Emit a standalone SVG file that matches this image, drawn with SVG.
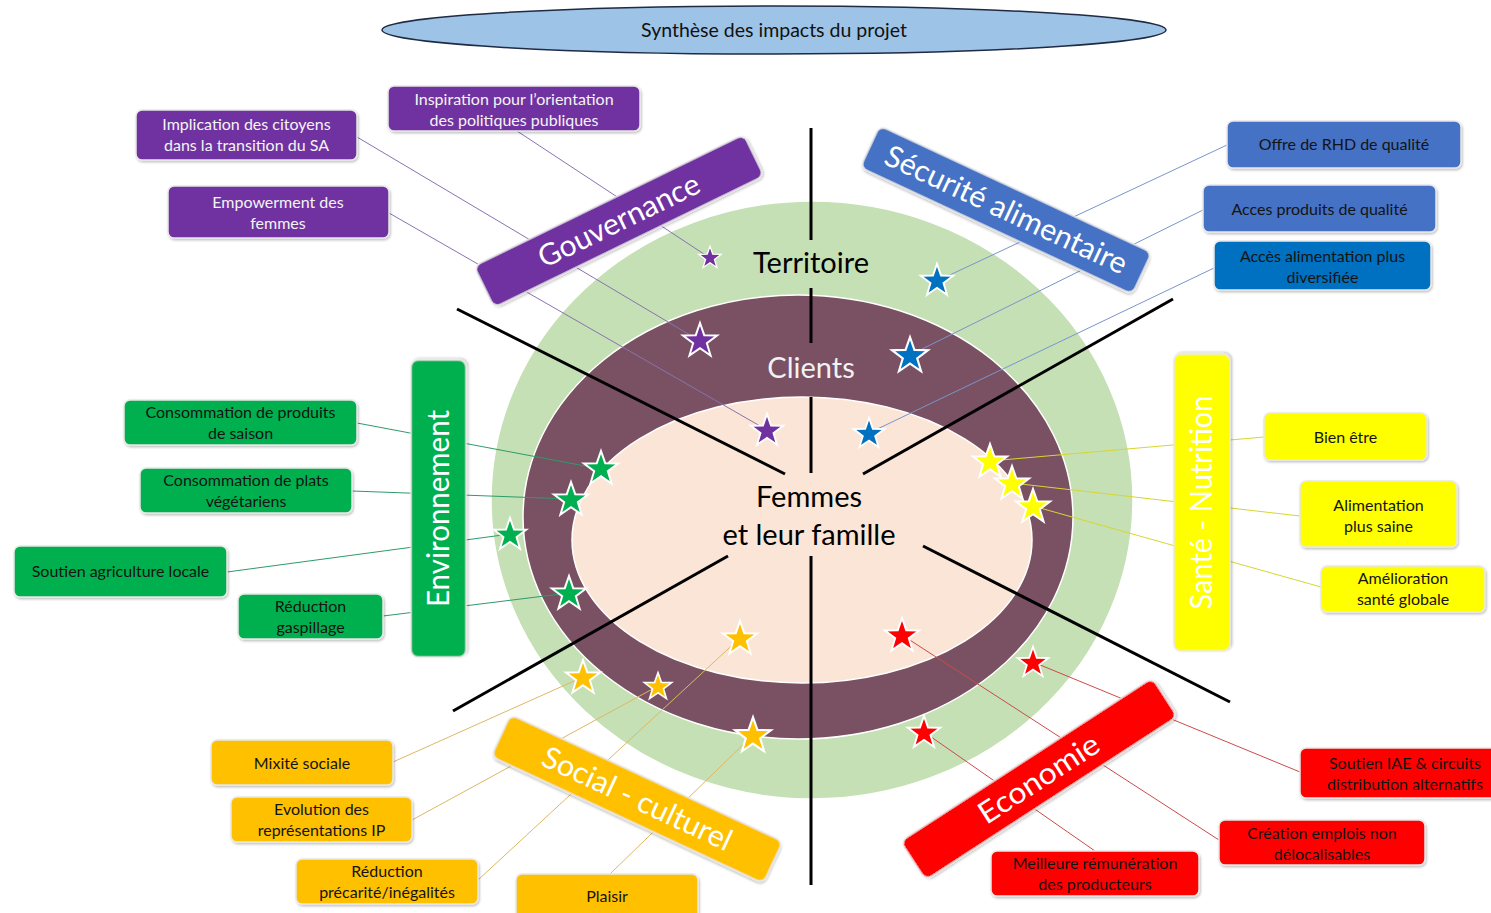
<svg xmlns="http://www.w3.org/2000/svg" xmlns:xlink="http://www.w3.org/1999/xlink" width="1491" height="913" viewBox="0 0 1491 913">
<defs>
<style>
.box{stroke:#e8e8e8;stroke-width:1.5;filter:url(#sh)}
.bt{font-family:Lato,"Liberation Sans",sans-serif;font-size:16px;text-anchor:middle;fill:#141414}
.bw{fill:#f4f4f4}
.bar{stroke:#e8e8e8;stroke-width:1.5;filter:url(#sh)}
.bart{font-family:Lato,"Liberation Sans",sans-serif;font-size:30px;text-anchor:middle;fill:#ffffff}
.ct{font-family:Lato,"Liberation Sans",sans-serif;font-size:29px;text-anchor:middle;fill:#000}
.div{stroke:#000;stroke-width:3;fill:none}
.cn{stroke-width:1;fill:none}
.star{stroke:#fff;stroke-width:2;stroke-linejoin:miter}
</style>
<filter id="sh" x="-10%" y="-10%" width="120%" height="130%">
<feDropShadow dx="1" dy="1.5" stdDeviation="1.2" flood-color="#000" flood-opacity="0.25"/>
</filter>
<path id="star" d="M0,-18 L4.23,-5.82 L17.12,-5.56 L6.85,2.22 L10.58,14.56 L0,7.2 L-10.58,14.56 L-6.85,2.22 L-17.12,-5.56 L-4.23,-5.82 Z"/>
</defs>
<rect width="1491" height="913" fill="#ffffff"/>

<g id="title">
<ellipse cx="774" cy="30" rx="392" ry="24" fill="#9dc3e6" stroke="#1f2a44" stroke-width="1.5"/>
<text x="774" y="37" font-family="Lato,'Liberation Sans',sans-serif" font-size="19.5" text-anchor="middle" fill="#111">Synthèse des impacts du projet</text>
</g>

<g id="rings">
<ellipse cx="812" cy="500" rx="321" ry="299" fill="#c5e0b4" stroke="#ffffff" stroke-width="1.5"/>
<ellipse cx="798" cy="517" rx="275" ry="222" fill="#7a5163" stroke="#ffffff" stroke-width="1.5"/>
<ellipse cx="802" cy="540" rx="230" ry="143" fill="#fbe5d6" stroke="#ffffff" stroke-width="1.5"/>
</g>

<g id="dividers">
<line class="div" x1="811" y1="128" x2="811" y2="240"/>
<line class="div" x1="811" y1="288" x2="811" y2="343"/>
<line class="div" x1="811" y1="397" x2="811" y2="473"/>
<line class="div" x1="811" y1="556" x2="811" y2="885"/>
<line class="div" x1="457" y1="309" x2="785" y2="474"/>
<line class="div" x1="1173" y1="299" x2="863" y2="474"/>
<line class="div" x1="453" y1="711" x2="728" y2="556"/>
<line class="div" x1="923" y1="546" x2="1230" y2="702"/>
</g>

<g id="connectors">
<g stroke="#8a72b0" class="cn">
<line x1="517" y1="131" x2="710" y2="258"/>
<line x1="357" y1="137" x2="700" y2="341"/>
<line x1="389" y1="213" x2="767" y2="430"/>
</g>
<g stroke="#7a94cc" class="cn">
<line x1="1227" y1="145" x2="937" y2="281"/>
<line x1="1203" y1="210" x2="910" y2="355"/>
<line x1="1214" y1="268" x2="869" y2="433"/>
</g>
<g stroke="#2f9a6a" class="cn">
<line x1="357" y1="423" x2="601" y2="469"/>
<line x1="352" y1="491" x2="571" y2="499"/>
<line x1="227" y1="572" x2="510" y2="534"/>
<line x1="383" y1="616" x2="569" y2="593"/>
</g>
<g stroke="#d6d630" class="cn">
<line x1="1264" y1="437" x2="990" y2="461"/>
<line x1="1300" y1="516" x2="1012" y2="483"/>
<line x1="1321" y1="587" x2="1033" y2="506"/>
</g>
<g stroke="#dcb866" class="cn">
<line x1="393" y1="762" x2="583" y2="677"/>
<line x1="412" y1="820" x2="658" y2="686"/>
<line x1="478" y1="880" x2="740" y2="638"/>
<line x1="610" y1="874" x2="753" y2="735"/>
</g>
<g stroke="#cc4a4a" class="cn">
<line x1="1300" y1="772" x2="1033" y2="662"/>
<line x1="1219" y1="840" x2="902" y2="635"/>
<line x1="1095" y1="851" x2="924" y2="732"/>
</g>
</g>

<g id="ring-labels">
<text class="ct" x="811" y="273">Territoire</text>
<text class="ct" x="811" y="378" style="fill:#f2f2f2">Clients</text>
<text class="ct" x="809" y="507">Femmes</text>
<text class="ct" x="809" y="545">et leur famille</text>
</g>

<g id="bar-gouvernance" transform="translate(619,221) rotate(-26)">
<rect class="bar" x="-150" y="-23" width="300" height="46" rx="7" fill="#7030a0"/>
<text class="bart" x="0" y="10" textLength="176" lengthAdjust="spacingAndGlyphs">Gouvernance</text>
</g>
<g id="bar-securite" transform="translate(1006,210) rotate(25)">
<rect class="bar" x="-150" y="-23" width="300" height="46" rx="7" fill="#4472c4"/>
<text class="bart" x="0" y="10" textLength="264" lengthAdjust="spacingAndGlyphs">Sécurité alimentaire</text>
</g>
<g id="bar-environnement" transform="translate(438.5,508.5) rotate(-90)">
<rect class="bar" x="-148.5" y="-27.5" width="297" height="55" rx="7" fill="#00b050"/>
<text class="bart" x="0" y="10" textLength="197" lengthAdjust="spacingAndGlyphs">Environnement</text>
</g>
<g id="bar-sante" transform="translate(1202,502.5) rotate(-90)">
<rect class="bar" x="-148.5" y="-28" width="297" height="56" rx="7" fill="#ffff00"/>
<text class="bart" x="0" y="10" textLength="214" lengthAdjust="spacingAndGlyphs">Santé - Nutrition</text>
</g>
<g id="bar-social" transform="translate(637,799) rotate(25)">
<rect class="bar" x="-150" y="-23" width="300" height="46" rx="7" fill="#ffc000"/>
<text class="bart" x="0" y="10" textLength="206" lengthAdjust="spacingAndGlyphs">Social - culturel</text>
</g>
<g id="bar-economie" transform="translate(1039,779) rotate(-33)">
<rect class="bar" x="-150" y="-23" width="300" height="46" rx="7" fill="#ff0000"/>
<text class="bart" x="0" y="10" textLength="138" lengthAdjust="spacingAndGlyphs">Economie</text>
</g>

<g id="stars">
<g fill="#7030a0" class="star">
<use xlink:href="#star" transform="translate(710,258) scale(0.65)"/>
<use xlink:href="#star" transform="translate(700,341) scale(1)"/>
<use xlink:href="#star" transform="translate(767,431) scale(0.95)"/>
</g>
<g fill="#0070c0" class="star">
<use xlink:href="#star" transform="translate(937,281) scale(0.95)"/>
<use xlink:href="#star" transform="translate(910,356) scale(1.05)"/>
<use xlink:href="#star" transform="translate(869,434) scale(0.9)"/>
</g>
<g fill="#00b050" class="star">
<use xlink:href="#star" transform="translate(601,469) scale(1)"/>
<use xlink:href="#star" transform="translate(571,500) scale(1)"/>
<use xlink:href="#star" transform="translate(510,535) scale(0.95)"/>
<use xlink:href="#star" transform="translate(569,594) scale(1)"/>
</g>
<g fill="#ffff00" class="star">
<use xlink:href="#star" transform="translate(990,462) scale(1)"/>
<use xlink:href="#star" transform="translate(1012,484) scale(1)"/>
<use xlink:href="#star" transform="translate(1033,507) scale(1)"/>
</g>
<g fill="#ffc000" class="star">
<use xlink:href="#star" transform="translate(583,678) scale(1)"/>
<use xlink:href="#star" transform="translate(658,687) scale(0.8)"/>
<use xlink:href="#star" transform="translate(740,639) scale(1)"/>
<use xlink:href="#star" transform="translate(753,736) scale(1.05)"/>
</g>
<g fill="#ff0000" class="star">
<use xlink:href="#star" transform="translate(902,636) scale(1)"/>
<use xlink:href="#star" transform="translate(1033,663) scale(0.9)"/>
<use xlink:href="#star" transform="translate(924,733) scale(0.95)"/>
</g>
</g>

<g id="box-inspiration"><rect class="box" x="388" y="86" width="252" height="45" rx="6" fill="#7030a0"/><text class="bt bw" x="514" y="105">Inspiration pour l’orientation</text><text class="bt bw" x="514" y="126">des politiques publiques</text></g>
<g id="box-implication"><rect class="box" x="136" y="110" width="221" height="50" rx="6" fill="#7030a0"/><text class="bt bw" x="246.5" y="130">Implication des citoyens</text><text class="bt bw" x="246.5" y="151">dans la transition du SA</text></g>
<g id="box-empowerment"><rect class="box" x="168" y="186" width="221" height="52" rx="6" fill="#7030a0"/><text class="bt bw" x="278" y="208">Empowerment des</text><text class="bt bw" x="278" y="229">femmes</text></g>

<g id="box-rhd"><rect class="box" x="1227" y="121" width="234" height="47" rx="6" fill="#4472c4"/><text class="bt" x="1344" y="150">Offre de RHD de qualité</text></g>
<g id="box-acces-produits"><rect class="box" x="1203" y="185" width="233" height="47" rx="6" fill="#4472c4"/><text class="bt" x="1319.5" y="215">Acces produits de qualité</text></g>
<g id="box-acces-alim"><rect class="box" x="1214" y="241" width="217" height="49" rx="6" fill="#0070c0"/><text class="bt" x="1322.5" y="262">Accès alimentation plus</text><text class="bt" x="1322.5" y="283">diversifiée</text></g>

<g id="box-saison"><rect class="box" x="124" y="400" width="233" height="45" rx="6" fill="#00b050"/><text class="bt" x="240.5" y="418">Consommation de produits</text><text class="bt" x="240.5" y="439">de saison</text></g>
<g id="box-vegetariens"><rect class="box" x="140" y="468" width="212" height="45" rx="6" fill="#00b050"/><text class="bt" x="246" y="486">Consommation de plats</text><text class="bt" x="246" y="507">végétariens</text></g>
<g id="box-agriculture"><rect class="box" x="14" y="546" width="213" height="51" rx="6" fill="#00b050"/><text class="bt" x="120.5" y="577">Soutien agriculture locale</text></g>
<g id="box-gaspillage"><rect class="box" x="238" y="594" width="145" height="45" rx="6" fill="#00b050"/><text class="bt" x="310.5" y="612">Réduction</text><text class="bt" x="310.5" y="633">gaspillage</text></g>

<g id="box-bien-etre"><rect class="box" x="1264" y="413" width="163" height="47" rx="6" fill="#ffff00"/><text class="bt" x="1345.5" y="443">Bien être</text></g>
<g id="box-alim-saine"><rect class="box" x="1300" y="481" width="157" height="66" rx="6" fill="#ffff00"/><text class="bt" x="1378.5" y="511">Alimentation</text><text class="bt" x="1378.5" y="532">plus saine</text></g>
<g id="box-sante-globale"><rect class="box" x="1321" y="566" width="164" height="46" rx="6" fill="#ffff00"/><text class="bt" x="1403" y="584">Amélioration</text><text class="bt" x="1403" y="605">santé globale</text></g>

<g id="box-mixite"><rect class="box" x="211" y="740" width="182" height="45" rx="6" fill="#ffc000"/><text class="bt" x="302" y="769">Mixité sociale</text></g>
<g id="box-evolution"><rect class="box" x="231" y="797" width="181" height="45" rx="6" fill="#ffc000"/><text class="bt" x="321.5" y="815">Evolution des</text><text class="bt" x="321.5" y="836">représentations IP</text></g>
<g id="box-precarite"><rect class="box" x="296" y="859" width="182" height="45" rx="6" fill="#ffc000"/><text class="bt" x="387" y="877">Réduction</text><text class="bt" x="387" y="898">précarité/inégalités</text></g>
<g id="box-plaisir"><rect class="box" x="516" y="874" width="182" height="50" rx="6" fill="#ffc000"/><text class="bt" x="607" y="902">Plaisir</text></g>

<g id="box-iae"><rect class="box" x="1300" y="748" width="200" height="50" rx="6" fill="#ff0000"/><text class="bt" x="1405" y="769">Soutien IAE &amp; circuits</text><text class="bt" x="1405" y="790">distribution alternatifs</text></g>
<g id="box-emplois"><rect class="box" x="1219" y="820" width="206" height="45" rx="6" fill="#ff0000"/><text class="bt" x="1322" y="839">Création emplois non</text><text class="bt" x="1322" y="860">délocalisables</text></g>
<g id="box-remuneration"><rect class="box" x="991" y="851" width="208" height="45" rx="6" fill="#ff0000"/><text class="bt" x="1095" y="869">Meilleure rémunération</text><text class="bt" x="1095" y="890">des producteurs</text></g>
</svg>
